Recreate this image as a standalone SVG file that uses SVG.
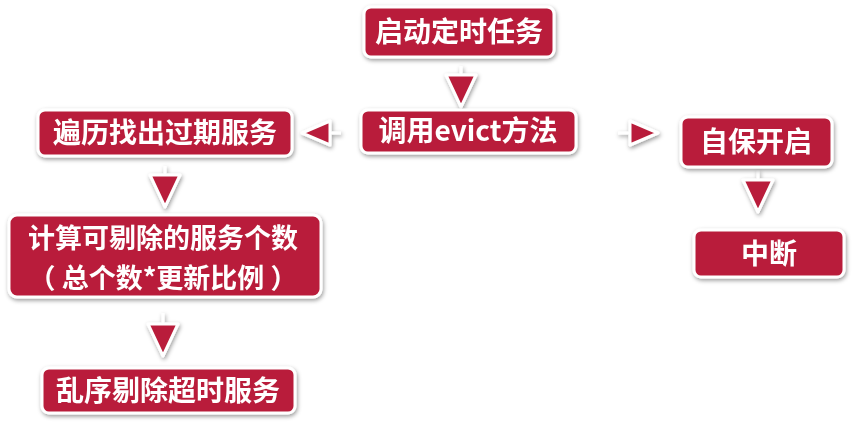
<svg xmlns="http://www.w3.org/2000/svg" width="859" height="423" viewBox="0 0 859 423">
  <style>
    .box rect { fill: #B91F3A; stroke: #ffffff; stroke-width: 3; }
    .box text { fill: #ffffff; font-family: "Noto Sans CJK SC", "Noto Sans", sans-serif; font-weight: bold; font-size: 28px; text-anchor: middle; }
    .box text.two-line { font-size: 27px; }
    .link { fill: none; stroke: #ffffff; stroke-width: 3; }
  </style>
  <defs>
    <filter id="shadow" x="-20%" y="-20%" width="140%" height="160%">
      <feDropShadow dx="1" dy="2" stdDeviation="2" flood-color="#000" flood-opacity="0.4"/>
    </filter>
    <marker id="tri-v" markerUnits="userSpaceOnUse" markerWidth="40" markerHeight="40" viewBox="-4 -4 40 40" refX="32" refY="15" orient="auto">
      <path d="M0,0 L32,15 L0,30 Z" fill="#B91F3A" stroke="#ffffff" stroke-width="3" stroke-linejoin="round"/>
    </marker>
    <marker id="tri-h" markerUnits="userSpaceOnUse" markerWidth="36" markerHeight="32" viewBox="-4 -4 36 32" refX="28" refY="12" orient="auto">
      <path d="M0,0 L28,12 L0,24 Z" fill="#B91F3A" stroke="#ffffff" stroke-width="3" stroke-linejoin="round"/>
    </marker>
  </defs>

  <!-- connectors: white stubs ending in outlined red arrowheads -->
  <g id="connectors" filter="url(#shadow)">
    <line class="link" x1="461" y1="66" x2="461" y2="107" marker-end="url(#tri-v)"/>
    <line class="link" x1="341" y1="133" x2="302" y2="133" marker-end="url(#tri-h)"/>
    <line class="link" x1="618" y1="133" x2="658" y2="133" marker-end="url(#tri-h)"/>
    <line class="link" x1="165" y1="166" x2="165" y2="207" marker-end="url(#tri-v)"/>
    <line class="link" x1="163" y1="313" x2="163" y2="356" marker-end="url(#tri-v)"/>
    <line class="link" x1="758" y1="170" x2="758" y2="212" marker-end="url(#tri-v)"/>
  </g>

  <g id="start-task" class="box" filter="url(#shadow)">
    <rect x="364" y="7" width="190" height="50" rx="7"/>
    <text x="459" y="42">启动定时任务</text>
  </g>

  <g id="call-evict" class="box" filter="url(#shadow)">
    <rect x="361" y="110" width="215" height="43" rx="7"/>
    <text x="468" y="141">调用evict方法</text>
  </g>

  <g id="find-expired" class="box" filter="url(#shadow)">
    <rect x="38" y="110" width="254" height="46" rx="7"/>
    <text x="165" y="143">遍历找出过期服务</text>
  </g>

  <g id="count-evictable" class="box" filter="url(#shadow)">
    <rect x="9" y="215" width="312" height="82" rx="8"/>
    <text class="two-line" x="163" y="248">计算可剔除的服务个数<tspan x="163" y="288">（ 总个数*更新比例 ）</tspan></text>
  </g>

  <g id="random-evict" class="box" filter="url(#shadow)">
    <rect x="42" y="368" width="253" height="45" rx="7"/>
    <text x="168" y="401">乱序剔除超时服务</text>
  </g>

  <g id="self-preservation" class="box" filter="url(#shadow)">
    <rect x="681" y="117" width="151" height="50" rx="7"/>
    <text x="756" y="152">自保开启</text>
  </g>

  <g id="interrupt" class="box" filter="url(#shadow)">
    <rect x="694" y="230" width="150" height="47" rx="7"/>
    <text x="769" y="264">中断</text>
  </g>
</svg>
